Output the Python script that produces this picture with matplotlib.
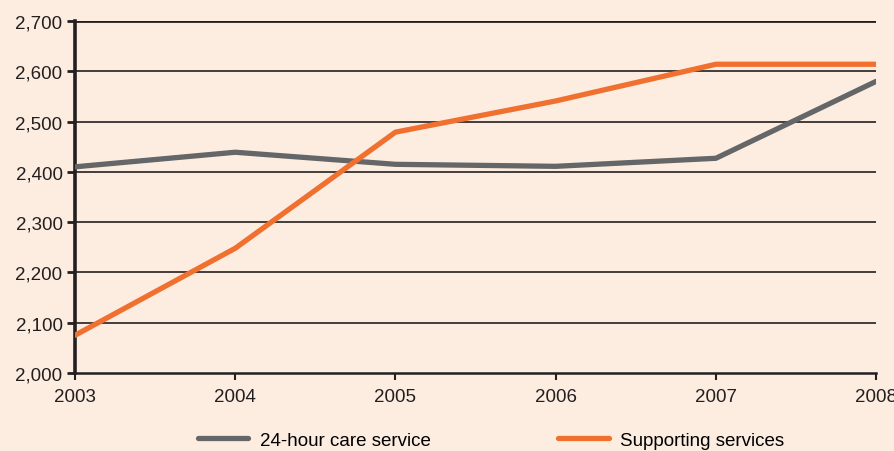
import matplotlib.pyplot as plt
from matplotlib.ticker import FuncFormatter

plt.rcParams["font.family"] = ["Liberation Sans", "DejaVu Sans"]

# data
years = [2003, 2004, 2005, 2006, 2007, 2008]
care_24h = [2410, 2439, 2415, 2411, 2427, 2580]
supporting = [2075, 2248, 2479, 2541, 2614, 2614]
y_ticks = [2000, 2100, 2200, 2300, 2400, 2500, 2600, 2700]

BG = "#fdede1"
GREY = "#646668"
ORANGE = "#f07030"
DARK = "#231f20"

fig = plt.figure(figsize=(8.94, 4.52), dpi=100, facecolor=BG)
ax = fig.add_axes([0.0839, 0.1726, 0.8961, 0.7787], facecolor=BG)

for t in y_ticks[1:]:
    ax.axhline(t, color=DARK, lw=1.2 if t < 2700 else 2.0, zorder=1)

ax.plot(years, care_24h, color=GREY, lw=3.8, solid_capstyle="round",
        label="24-hour care service", zorder=3)
ax.plot(years, supporting, color=ORANGE, lw=3.8, solid_capstyle="round",
        label="Supporting services", zorder=3)

ax.set_xlim(2003, 2008)
ax.set_ylim(2000, 2700)
ax.set_xticks(years)
ax.set_yticks(y_ticks)
ax.yaxis.set_major_formatter(FuncFormatter(lambda v, p: f"{int(v):,}"))

for s in ["top", "right"]:
    ax.spines[s].set_visible(False)
ax.spines["left"].set_linewidth(2.6)
ax.spines["bottom"].set_linewidth(1.8)
ax.spines["left"].set_color(DARK)
ax.spines["bottom"].set_color(DARK)
ax.tick_params(axis="y", length=6, width=2.0, color=DARK, labelsize=13.5,
               labelcolor=DARK, pad=3)
ax.tick_params(axis="x", length=5, width=1.5, color=DARK, labelsize=13.5,
               labelcolor=DARK, pad=6)

fig.legend(loc="center", bbox_to_anchor=(0.549, 0.024), ncol=2, frameon=False,
           fontsize=13.5, handlelength=2.7, columnspacing=6.8, handletextpad=0.6)

fig.savefig("out.png", dpi=100, facecolor=BG)
